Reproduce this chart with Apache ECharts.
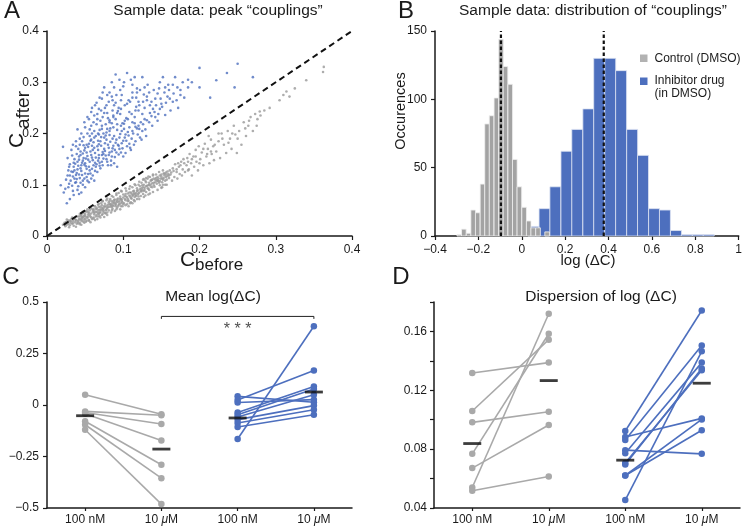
<!DOCTYPE html>
<html><head><meta charset="utf-8">
<script src="https://cdn.jsdelivr.net/npm/echarts@6/dist/echarts.min.js"></script>
<style>html,body{margin:0;padding:0;background:#fff}#c{width:745px;height:527px}</style>
</head><body><div id="c"></div>
<script>
// ---------- Panel A: scatter (C_before, C_after) ----------
const aBlue = [
[.026,.064],[.03,.072],[.022,.085],[.035,.08],[.028,.095],[.018,.099],[.04,.09],[.033,.098],[.045,.085],[.038,.105],[.05,.095],
[.025,.11],[.03,.118],[.036,.112],[.042,.12],[.047,.108],[.052,.115],[.034,.125],[.04,.13],[.045,.127],[.05,.122],[.056,.128],[.028,.128],[.06,.118],[.043,.113],[.038,.119],[.062,.108],[.055,.105],[.066,.125],
[.03,.14],[.035,.135],[.04,.145],[.045,.138],[.05,.142],[.055,.135],[.06,.148],[.065,.14],[.07,.132],[.048,.152],[.042,.155],[.036,.15],[.058,.158],[.064,.153],[.072,.145],[.078,.15],[.08,.138],[.085,.155],[.027,.152],[.052,.131],[.068,.158],[.074,.16],[.047,.147],[.053,.156],[.088,.142],
[.032,.168],[.038,.175],[.044,.165],[.05,.172],[.055,.18],[.06,.168],[.066,.175],[.07,.185],[.075,.17],[.08,.178],[.085,.165],[.09,.182],[.095,.17],[.1,.186],[.058,.188],[.046,.185],[.063,.162],[.078,.188],[.087,.176],[.105,.175],[.021,.174],[.052,.163],[.068,.179],[.083,.184],[.073,.164],[.097,.163],[.11,.168],
[.045,.2],[.05,.212],[.056,.195],[.062,.205],[.068,.198],[.072,.215],[.078,.202],[.083,.21],[.088,.195],[.092,.218],[.098,.205],[.103,.198],[.108,.212],[.113,.2],[.12,.215],[.125,.205],[.065,.218],[.085,.22],[.075,.192],[.095,.192],[.058,.215],[.04,.208],[.115,.22],[.13,.195],[.082,.197],
[.055,.228],[.062,.235],[.07,.225],[.075,.24],[.08,.23],[.086,.245],[.09,.228],[.096,.238],[.102,.225],[.108,.242],[.115,.232],[.12,.245],[.128,.228],[.135,.24],[.142,.232],[.148,.248],[.068,.248],[.094,.25],[.082,.222],[.112,.222],[.058,.242],[.155,.236],
[.065,.26],[.072,.268],[.078,.255],[.085,.272],[.09,.26],[.098,.275],[.105,.258],[.112,.27],[.12,.262],[.127,.276],[.135,.255],[.142,.268],[.15,.258],[.158,.272],[.165,.262],[.172,.25],[.175,.275],[.082,.28],[.118,.28],[.145,.278],
[.075,.29],[.085,.3],[.09,.315],[.1,.292],[.11,.305],[.118,.288],[.125,.31],[.132,.295],[.14,.285],[.148,.3],[.155,.29],[.165,.295],[.175,.285],[.185,.29],[.095,.305],[.105,.318],[.2,.29],
[.044,.158],[.049,.167],[.054,.174],[.059,.176],[.061,.183],[.067,.168],[.071,.176],[.076,.181],[.081,.172],[.086,.19],[.091,.188],[.096,.199],[.101,.209],[.106,.203],[.111,.19],[.079,.209],[.074,.2],[.069,.207],[.064,.195],[.059,.2],[.053,.2],[.048,.193],[.043,.178],[.039,.16],[.035,.143],[.056,.145],[.061,.138],[.067,.147],[.073,.138],[.077,.157],[.082,.163],[.089,.154],[.093,.178],[.099,.22],[.104,.23],[.087,.235],[.079,.24],[.073,.232],[.066,.238],[.093,.244],[.117,.252],[.109,.262],[.097,.265],[.088,.255],[.131,.265],[.139,.248],[.125,.238],[.118,.21],[.123,.222],[.037,.104],[.041,.097],[.057,.122],[.063,.127],[.069,.137],[.046,.119],[.051,.136],[.029,.135],[.033,.157],[.084,.147],[.092,.135],[.1,.155],[.103,.162],[.108,.18],[.116,.185],[.122,.192],[.138,.215],[.145,.225],[.128,.25],[.134,.28],[.16,.285],[.168,.31],[.112,.295],[.152,.31],[.17,.265],[.162,.245],[.18,.27],[.19,.3],[.185,.305],
[.031,.108],[.034,.116],[.039,.123],[.044,.132],[.049,.139],[.054,.149],[.059,.153],[.063,.143],[.068,.152],[.072,.158],[.076,.166],[.081,.158],[.086,.171],[.091,.163],[.094,.176],[.098,.181],[.102,.192],[.107,.196],[.112,.205],[.116,.213],[.121,.209],[.126,.218],[.131,.226],[.137,.234],[.141,.242],[.146,.238],[.151,.252],[.156,.26],[.161,.268],[.166,.278],
[.036,.128],[.041,.137],[.046,.143],[.051,.151],[.057,.165],[.062,.172],[.067,.186],[.071,.193],[.077,.196],[.082,.205],[.087,.212],[.092,.207],[.097,.215],[.101,.219],[.106,.228],[.111,.238],[.116,.245],[.121,.255],[.126,.262],[.131,.272],
[.027,.118],[.032,.126],[.037,.141],[.042,.149],[.047,.161],[.052,.178],[.057,.186],[.062,.192],[.067,.2],[.072,.209],[.077,.218],[.082,.226],[.087,.232],[.092,.24],[.097,.248],[.102,.255],[.107,.265],[.112,.28],[.117,.27],[.122,.285],
[.039,.111],[.044,.104],[.049,.112],[.054,.121],[.059,.131],[.064,.135],[.069,.143],[.074,.151],[.079,.145],[.084,.138],[.089,.168],[.094,.159],[.099,.171],[.104,.186],[.109,.172],[.114,.178],[.119,.198],[.124,.188],[.129,.208],[.134,.222],
[.024,.092],[.029,.102],[.034,.088],[.042,.082],[.047,.1],[.053,.108],[.058,.112],[.048,.177],[.043,.19],[.038,.185],[.034,.178],[.041,.17],[.056,.208],[.061,.222],[.066,.228],[.071,.245],[.076,.25],[.081,.262],[.086,.265],[.091,.275],
[.096,.285],[.101,.3],[.088,.29],[.079,.275],[.073,.28],[.069,.27],[.063,.255],[.059,.25],[.053,.232],[.049,.222],[.137,.262],[.143,.255],[.149,.268],[.154,.28],[.159,.295],[.171,.29],[.178,.3],[.147,.288],[.128,.29],[.115,.31],
[.2,.328],[.25,.336],[.236,.318],[.222,.304],[.27,.31],[.246,.29],[.214,.27]
];
const aGray = [
[.021,.022],[.024,.019],[.025,.027],[.027,.023],[.028,.03],[.03,.021],[.031,.026],[.032,.033],[.033,.024],[.034,.029],[.035,.02],[.036,.034],[.037,.027],[.038,.031],[.039,.024],[.029,.017],[.033,.036],[.026,.032],[.038,.018],[.023,.026],
[.041,.03],[.042,.038],[.043,.026],[.044,.034],[.045,.041],[.046,.029],[.047,.036],[.048,.045],[.049,.032],[.05,.039],[.051,.028],[.052,.048],[.053,.035],[.054,.042],[.055,.031],[.056,.05],[.057,.038],[.058,.044],[.059,.033],[.041,.025],[.043,.043],[.045,.022],[.047,.047],[.049,.04],[.05,.034],[.052,.03],[.053,.052],[.055,.045],[.057,.027],[.058,.054],[.044,.031],[.046,.037],[.048,.028],[.054,.038],[.06,.047],
[.061,.036],[.061,.052],[.062,.042],[.063,.058],[.064,.038],[.064,.047],[.065,.055],[.066,.033],[.067,.044],[.067,.061],[.068,.05],[.069,.039],[.07,.057],[.07,.046],[.071,.064],[.072,.041],[.073,.052],[.073,.068],[.074,.047],[.075,.058],[.075,.037],[.076,.063],[.077,.05],[.077,.044],[.078,.07],[.079,.055],[.079,.041],[.08,.061],[.062,.048],[.065,.041],[.068,.057],[.071,.05],[.074,.054],[.076,.045],[.078,.059],[.066,.052],[.069,.046],[.072,.06],[.063,.031],[.07,.036],
[.081,.05],[.081,.066],[.082,.057],[.083,.072],[.084,.046],[.084,.062],[.085,.068],[.086,.053],[.087,.076],[.087,.059],[.088,.064],[.089,.049],[.089,.071],[.09,.058],[.091,.08],[.091,.066],[.092,.055],[.093,.073],[.094,.061],[.094,.084],[.095,.069],[.096,.052],[.096,.077],[.097,.064],[.098,.087],[.098,.071],[.099,.058],[.1,.075],[.083,.061],[.085,.056],[.088,.07],[.09,.063],[.092,.068],[.095,.062],[.097,.072],[.099,.066],[.086,.065],[.093,.058],[.082,.069],[.1,.081],
[.101,.064],[.102,.078],[.103,.07],[.104,.088],[.105,.062],[.105,.075],[.106,.083],[.107,.069],[.108,.092],[.109,.077],[.11,.066],[.11,.085],[.111,.073],[.112,.095],[.113,.08],[.114,.07],[.114,.088],[.115,.076],[.116,.099],[.117,.084],[.118,.072],[.118,.093],[.119,.081],[.12,.1],[.103,.082],[.106,.072],[.108,.079],[.111,.082],[.113,.087],[.115,.083],[.117,.078],[.119,.089],[.107,.058],[.112,.064],[.12,.077],
[.121,.085],[.122,.097],[.123,.078],[.124,.104],[.125,.09],[.126,.082],[.127,.1],[.128,.094],[.129,.108],[.13,.086],[.131,.098],[.132,.112],[.133,.092],[.134,.104],[.135,.083],[.135,.115],[.136,.1],[.137,.109],[.138,.095],[.139,.118],[.14,.104],[.124,.093],[.127,.088],[.13,.105],[.133,.099],[.136,.108],[.138,.103],[.126,.11],[.129,.079],[.134,.09],[.14,.112],[.123,.088],
[.141,.096],[.142,.11],[.143,.12],[.144,.102],[.145,.115],[.146,.107],[.147,.125],[.148,.099],[.149,.112],[.15,.12],[.151,.105],[.152,.128],[.153,.113],[.154,.118],[.155,.1],[.156,.124],[.157,.11],[.158,.117],[.145,.109],[.148,.118],[.151,.112],[.153,.122],[.156,.115],[.143,.113],[.15,.094],[.155,.108],[.159,.121],[.147,.104],[.152,.1],[.16,.113],
[.162,.12],[.164,.108],[.165,.132],[.167,.115],[.168,.14],[.17,.125],[.171,.112],[.173,.135],[.174,.121],[.176,.145],[.177,.118],[.178,.13],[.179,.15],[.166,.127],[.172,.142],
[.181,.125],[.183,.138],[.184,.152],[.186,.13],[.187,.16],[.189,.142],[.19,.118],[.192,.155],[.193,.135],[.195,.168],[.196,.145],[.198,.128],[.199,.175],[.185,.145],
[.201,.15],[.203,.163],[.205,.138],[.207,.18],[.209,.155],[.211,.17],[.213,.142],[.215,.188],[.216,.16],[.218,.175],[.219,.148],[.212,.195],
[.222,.165],[.225,.185],[.227,.152],[.229,.2],[.232,.178],[.235,.162],[.237,.205],[.24,.19],[.242,.17],[.245,.215],[.247,.198],[.249,.162],
[.252,.205],[.255,.178],[.258,.222],[.261,.195],[.264,.215],[.267,.232],[.27,.205],[.273,.238],[.276,.228],[.279,.243],
[.285,.245],[.292,.25],[.305,.265],[.31,.275],[.314,.282],[.318,.272],[.325,.288],[.34,.304],[.362,.32],[.363,.33],
[.025,.021],[.028,.025],[.031,.029],[.034,.025],[.037,.032],[.04,.028],[.042,.033],[.044,.039],[.046,.033],[.048,.038],[.05,.043],[.052,.037],[.054,.047],[.056,.041],[.058,.036],[.06,.051],[.062,.045],[.064,.053],[.066,.047],[.068,.043],[.07,.052],[.072,.055],[.074,.05],[.076,.057],[.078,.052],[.08,.056],[.082,.063],[.084,.058],[.086,.06],[.088,.067],
[.09,.061],[.092,.071],[.094,.066],[.096,.073],[.098,.068],[.1,.062],[.102,.072],[.104,.077],[.106,.068],[.108,.085],[.11,.074],[.112,.078],[.114,.083],[.116,.08],[.118,.088],[.12,.083],[.122,.091],[.124,.087],[.126,.095],[.128,.09],
[.13,.097],[.132,.093],[.134,.1],[.136,.096],[.138,.11],[.14,.099],[.142,.105],[.144,.108],[.146,.112],[.148,.107],[.15,.116],[.152,.11],[.154,.122],[.156,.12],[.158,.126],[.16,.118],[.161,.128],[.163,.124],[.13,.113],[.125,.099],
[.03,.03],[.035,.033],[.04,.038],[.045,.043],[.051,.048],[.057,.054],[.062,.058],[.068,.063],[.073,.068],[.079,.073],[.085,.078],[.091,.083],[.097,.088],[.103,.093],[.109,.097],[.115,.101],[.121,.106],[.127,.111],[.133,.116],[.139,.12],
[.043,.023],[.049,.026],[.055,.03],[.061,.034],[.067,.038],[.073,.043],[.079,.046],[.085,.05],[.091,.052],[.097,.058],[.103,.06],[.109,.064],[.115,.068],[.121,.072],[.127,.076],[.133,.081],[.139,.086],[.145,.09],[.151,.095],[.157,.1],
[.17,.13],[.175,.138],[.18,.142],[.185,.128],[.19,.15],[.195,.155],[.2,.142],[.205,.17],[.21,.16],[.215,.165],[.22,.178],[.225,.2],[.23,.19],[.238,.182],[.243,.2],[.25,.19],[.26,.21],[.265,.225],[.275,.215],[.28,.235]
];
const aDiagonal = [[0,0],[0.4,0.4]];

// ---------- Panel B: histograms of log(ΔC) ----------
const bGrayCenters = [-0.288,-0.267,-0.245,-0.224,-0.203,-0.181,-0.160,-0.139,-0.117,-0.096,-0.075,-0.053,-0.032,-0.011,0.011,0.032,0.053,0.075,0.096,0.117];
const bGrayCounts  = [1,5,2,19,17,38,82,88,101,144,124,111,56,36,21,11,6,6,0,3];
const bGrayBinWidth = 0.0214;
const bBlueCenters = [0.054,0.105,0.155,0.206,0.256,0.307,0.357,0.408,0.458,0.509,0.559,0.610,0.660,0.711,0.761,0.812,0.862];
const bBlueCounts  = [7,20,36,62,78,93,130,130,121,78,59,20,19,4,1,1,1];
const bBlueBinWidth = 0.0505;
const bMedians = [-0.096, 0.378];

// ---------- Panels C & D: paired measurements ----------
const catLabels = ['100 nM','10 μM','100 nM','10 μM'];
const cGrayBefore = [0.050,-0.031,-0.036,-0.042,-0.079,-0.096,-0.120];
const cGrayAfter  = [-0.045,-0.050,-0.092,-0.172,-0.290,-0.355,-0.481];
const cBlueBefore = [0.042,0.024,0.012,-0.036,-0.047,-0.058,-0.071,-0.087,-0.107,-0.165];
const cBlueAfter  = [0.013,0.168,0.026,0.090,0.078,0.050,-0.003,-0.023,-0.047,0.382];
const cMeans = [-0.052,-0.214,-0.063,0.063];
const cBracket = [[1,0.418],[1,0.43],[3,0.43],[3,0.418]];
const cStars = [[2.05,0.368]];

const dGrayBefore = [0.1318,0.1059,0.0982,0.0768,0.0671,0.0539,0.0517];
const dGrayAfter  = [0.1388,0.1544,0.1054,0.1584,0.0964,0.1720,0.0614];
const dBlueBefore = [0.0923,0.0883,0.0862,0.0793,0.0772,0.0705,0.0695,0.0621,0.0621,0.0454];
const dBlueAfter  = [0.1742,0.1009,0.1505,0.0768,0.1388,0.1336,0.1348,0.0928,0.1002,0.1465];
const dMeans = [0.0838,0.1266,0.0725,0.1248];

// ---------- styling ----------
const FONT = '"Liberation Sans", Arial, Helvetica, sans-serif';
const INK = '#1a1a1a';
const BLUE = '#4d6fbe';
const GRAY_PT = '#999999';
const GRAY_BAR = '#a3a3a3';
const GRAY_LN = '#a9a9a9';

const chart = echarts.init(document.getElementById('c'), null, {renderer:'canvas'});

function axisCommon(extra) {
  return Object.assign({
    axisLine:{show:true, onZero:false, lineStyle:{color:INK, width:1.5}},
    axisTick:{show:true, length:4, lineStyle:{color:INK, width:1.2}},
    axisLabel:{color:INK, fontSize:12, fontFamily:FONT},
    splitLine:{show:false}
  }, extra);
}
const minus = s => String(s).replace('-', '\u2212');

function histSeries(centers, counts, width, fill, stroke, z) {
  return {
    type:'custom', xAxisIndex:1, yAxisIndex:1, z:z,
    encode:{x:0, y:1},
    data: centers.map((c,i)=>[c, counts[i]]),
    renderItem: function(params, api) {
      const c = api.value(0), n = api.value(1);
      if (!n) return null;
      const p0 = api.coord([c - width/2, n]);
      const p1 = api.coord([c + width/2, 0]);
      return {type:'rect', shape:{x:p0[0], y:p0[1], width:p1[0]-p0[0], height:p1[1]-p0[1]},
              style:{fill:fill, stroke:stroke, lineWidth:0.8}};
    }
  };
}

function pairSeries(before, after, x0, color, xi) {
  return before.map((b,i)=>({
    type:'line', xAxisIndex:xi, yAxisIndex:xi,
    data:[[x0,b],[x0+1,after[i]]],
    symbol:'circle', symbolSize:6.5, showSymbol:true,
    itemStyle:{color:color}, lineStyle:{color:color, width:1.6},
    z:3, silent:true, animation:false
  }));
}
function meanSeries(means, xi) {
  return {type:'scatter', xAxisIndex:xi, yAxisIndex:xi,
    data: means.map((m,i)=>[i,m]), symbol:'rect', symbolSize:[18,2.8],
    itemStyle:{color:'#0d0d0d'}, z:10, silent:true};
}

const catAxis = (gi) => axisCommon({
  type:'category', gridIndex:gi, data:catLabels, boundaryGap:true,
  axisTick:{show:true, alignWithLabel:true, length:3, lineStyle:{color:INK, width:1.2}},
  axisLabel:{color:INK, fontSize:12, fontFamily:FONT, margin:6,
    formatter: v => v.replace('μ','{i|μ}'),
    rich:{i:{fontStyle:'italic', fontSize:12, fontFamily:FONT, color:INK}}}
});

const series = [
  {type:'scatter', xAxisIndex:0, yAxisIndex:0, data:aGray, symbolSize:2.6, itemStyle:{color:GRAY_PT}, z:2, silent:true},
  {type:'scatter', xAxisIndex:0, yAxisIndex:0, data:aBlue, symbolSize:2.6, itemStyle:{color:BLUE}, z:2, silent:true},
  {type:'line', xAxisIndex:0, yAxisIndex:0, data:aDiagonal, symbol:'none', lineStyle:{color:'#111', width:2, type:[6,4]}, z:5, silent:true},
  histSeries(bBlueCenters, bBlueCounts, bBlueBinWidth, BLUE, '#dde3f2', 2),
  histSeries(bGrayCenters, bGrayCounts, bGrayBinWidth, GRAY_BAR, '#f0f0f0', 3),
].concat(bMedians.map(m=>({type:'line', xAxisIndex:1, yAxisIndex:1, data:[[m,0],[m,150]], symbol:'none',
  lineStyle:{color:'#111', width:2.2, type:[3.5,2.5]}, z:6, silent:true})))
 .concat(pairSeries(cGrayBefore, cGrayAfter, 0, GRAY_LN, 2))
 .concat(pairSeries(cBlueBefore, cBlueAfter, 2, BLUE, 2))
 .concat([meanSeries(cMeans, 2),
   {type:'line', xAxisIndex:2, yAxisIndex:2, data:cBracket, symbol:'none', lineStyle:{color:'#222', width:1}, z:4, silent:true},
   {type:'scatter', xAxisIndex:2, yAxisIndex:2, data:cStars, symbolSize:0,
     label:{show:true, formatter:'* * *', color:'#222', fontSize:16, fontFamily:FONT, position:'inside'}, silent:true}])
 .concat(pairSeries(dGrayBefore, dGrayAfter, 0, GRAY_LN, 3))
 .concat(pairSeries(dBlueBefore, dBlueAfter, 2, BLUE, 3))
 .concat([meanSeries(dMeans, 3)]);

function txt(x, y, text, size, opts) {
  return Object.assign({type:'text', x:x, y:y, silent:true, z:100,
    style:Object.assign({text:text, fill:INK, font:size+'px '+FONT, fontSize:size, fontFamily:FONT,
      align:'center', verticalAlign:'middle', textAlign:'center', textVerticalAlign:'middle'}, (opts&&opts.style)||{})},
    (opts&&opts.el)||{});
}
const ROT = {el:{rotation:Math.PI/2}};

const option = {
  animation:false,
  backgroundColor:'#fff',
  grid:[
    {left:47, top:31, width:305, height:205},
    {left:435, top:31, width:306, height:205},
    {left:47, top:302, width:305, height:206},
    {left:434, top:302, width:306, height:206}
  ],
  xAxis:[
    axisCommon({type:'value', gridIndex:0, min:0, max:0.4, interval:0.1}),
    axisCommon({type:'value', gridIndex:1, min:-0.4, max:1, interval:0.2,
      axisLabel:{color:INK, fontSize:12, fontFamily:FONT, formatter:v=>minus(+v.toFixed(1))}}),
    catAxis(2),
    catAxis(3)
  ],
  yAxis:[
    axisCommon({type:'value', gridIndex:0, min:0, max:0.4, interval:0.1}),
    axisCommon({type:'value', gridIndex:1, min:0, max:150, interval:50}),
    axisCommon({type:'value', gridIndex:2, min:-0.5, max:0.5, interval:0.25,
      axisLabel:{color:INK, fontSize:12, fontFamily:FONT, formatter:v=>minus(v)}}),
    axisCommon({type:'value', gridIndex:3, min:0.04, max:0.18, interval:0.02,
      axisLabel:{color:INK, fontSize:12, fontFamily:FONT, margin:7,
        formatter:v=> (Math.round(v*100)%4===0 ? v.toFixed(2) : '')}})
  ],
  series: series,
  graphic:[
    txt(12, 11, 'A', 24), txt(406, 11, 'B', 24), txt(11, 277, 'C', 24), txt(401, 277, 'D', 24),
    txt(218, 11, 'Sample data: peak \u201Ccouplings\u201D', 15.5),
    txt(593, 11, 'Sample data: distribution of \u201Ccouplings\u201D', 15.5),
    txt(213, 297, 'Mean log(\u0394C)', 15.5),
    txt(601, 297, 'Dispersion of log (\u0394C)', 15.5),
    // axis titles
    txt(17.7, 148, 'C', 21, {style:{align:'left', textAlign:'left'}, el:{rotation:Math.PI/2}}),
    txt(24, 129, 'after', 19, {style:{align:'left', textAlign:'left'}, el:{rotation:Math.PI/2}}),
    txt(180, 260, 'C', 21, {style:{align:'left', textAlign:'left'}}),
    txt(195, 265, 'before', 17, {style:{align:'left', textAlign:'left'}}),
    txt(401, 111, 'Occurences', 14.5, ROT),
    txt(588, 261, 'log (\u0394C)', 15),
    // legend for panel B
    {type:'rect', shape:{x:640, y:54.5, width:7.5, height:7.5}, style:{fill:'#b2b2b2'}, silent:true},
    txt(654.5, 58.5, 'Control (DMSO)', 12, {style:{align:'left', textAlign:'left'}}),
    {type:'rect', shape:{x:640, y:77.5, width:7.5, height:7.5}, style:{fill:BLUE}, silent:true},
    txt(654.5, 81, 'Inhibitor drug', 12, {style:{align:'left', textAlign:'left'}}),
    txt(654.5, 94, '(in DMSO)', 12, {style:{align:'left', textAlign:'left'}})
  ]
};
chart.setOption(option);
</script>
</body></html>
